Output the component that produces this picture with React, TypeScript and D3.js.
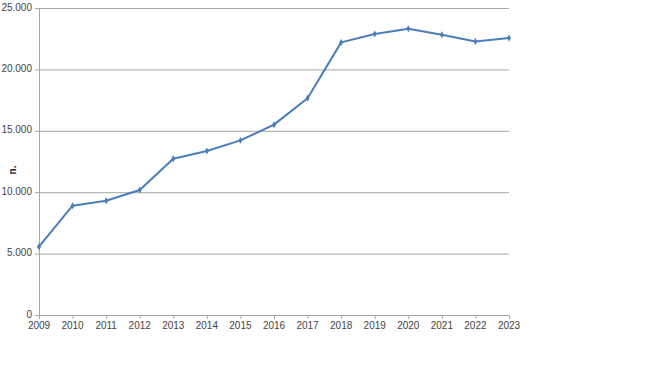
import React from "react";
import * as d3 from "d3";

const years = [2009, 2010, 2011, 2012, 2013, 2014, 2015, 2016, 2017, 2018, 2019, 2020, 2021, 2022, 2023];
const values = [5560, 8900, 9310, 10180, 12730, 13350, 14220, 15500, 17650, 22200, 22880, 23310, 22820, 22280, 22550];
const yTicks = [0, 5000, 10000, 15000, 20000, 25000];
const yLabel = "n.";

const W = 650;
const H = 365;
const margin = { top: 8, right: 141, bottom: 50, left: 39 };

export default function App() {
  const innerW = W - margin.left - margin.right;
  const innerH = H - margin.top - margin.bottom;

  const x = d3.scaleLinear().domain([years[0], years[years.length - 1]]).range([0, innerW]);
  const y = d3.scaleLinear().domain([0, 25000]).range([innerH, 0]);

  const fmt = (v: number) => d3.format(",")(v).replace(/,/g, ".");

  const line = d3
    .line<number>()
    .x((_, i) => x(years[i]))
    .y((d) => y(d));

  const font = "'Liberation Sans', Arial, sans-serif";

  return (
    <svg
      width={W}
      height={H}
      style={{ position: "absolute", left: 0, top: 0, background: "#fff" }}
    >
      <g transform={`translate(${margin.left},${margin.top})`}>
        {/* grid */}
        {yTicks.map((t) => (
          <g key={t}>
            {t > 0 && (
              <line x1={0} x2={innerW} y1={y(t) + 0.5} y2={y(t) + 0.5} stroke="#a6a6a6" strokeWidth={1} />
            )}
            <line x1={-4} x2={0} y1={y(t) + 0.5} y2={y(t) + 0.5} stroke="#a6a6a6" />
            <text
              x={-7}
              y={y(t) - 1}
              dy="0.35em"
              textAnchor="end"
              fontFamily={font}
              fontSize={10}
              fill="#444"
            >
              {fmt(t)}
            </text>
          </g>
        ))}

        {/* axes */}
        <line x1={0.5} x2={0.5} y1={0} y2={innerH} stroke="#a6a6a6" />
        <line x1={0} x2={innerW} y1={innerH + 0.5} y2={innerH + 0.5} stroke="#a6a6a6" />
        {years.map((yr) => (
          <g key={yr}>
            <line x1={x(yr) + 0.5} x2={x(yr) + 0.5} y1={innerH} y2={innerH + 4} stroke="#a6a6a6" />
            <text
              x={x(yr)}
              y={innerH + 14}
              textAnchor="middle"
              fontFamily={font}
              fontSize={10}
              fill="#444"
            >
              {yr}
            </text>
          </g>
        ))}

        {/* series */}
        <path d={line(values) || ""} fill="none" stroke="#4a7ebb" strokeWidth={2} strokeLinejoin="round" />
        {values.map((v, i) => (
          <path
            key={i}
            d={d3.symbol(d3.symbolDiamond, 14)() || ""}
            transform={`translate(${x(years[i])},${y(v)})`}
            fill="#4a7ebb"
          />
        ))}
      </g>

      <text
        transform={`translate(16,${170}) rotate(-90)`}
        textAnchor="middle"
        fontFamily={font}
        fontSize={10}
        fontWeight="bold"
        fill="#222"
      >
        {yLabel}
      </text>
    </svg>
  );
}
